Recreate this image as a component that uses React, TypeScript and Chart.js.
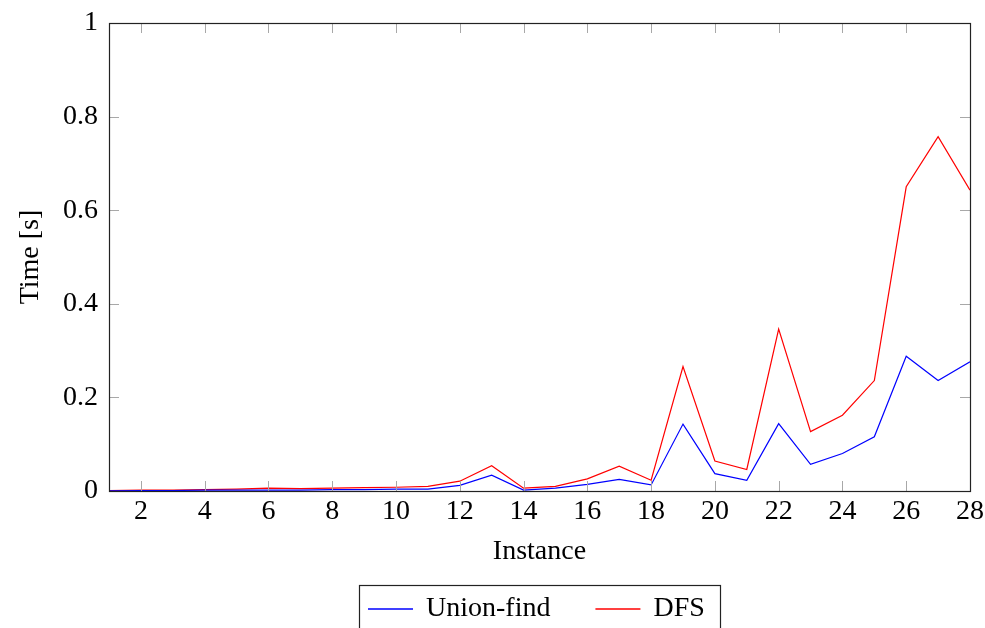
import React, { useEffect, useRef } from "react";
import { Chart, registerables } from "chart.js";

Chart.register(...registerables);

const instances = [1, 2, 3, 4, 5, 6, 7, 8, 9, 10, 11, 12, 13, 14, 15, 16, 17, 18, 19, 20, 21, 22, 23, 24, 25, 26, 27, 28];
const unionFind = [0.0005, 0.001, 0.001, 0.002, 0.002, 0.002, 0.002, 0.003, 0.003, 0.004, 0.004, 0.012, 0.034, 0.002, 0.006, 0.014, 0.025, 0.013, 0.143, 0.037, 0.023, 0.144, 0.057, 0.080, 0.116, 0.288, 0.236, 0.276];
const dfs = [0.001, 0.002, 0.002, 0.003, 0.004, 0.006, 0.005, 0.006, 0.007, 0.008, 0.010, 0.021, 0.054, 0.006, 0.010, 0.026, 0.053, 0.023, 0.266, 0.064, 0.046, 0.346, 0.127, 0.162, 0.236, 0.650, 0.757, 0.643];
const seriesLabels = ["Union-find", "DFS"];
const seriesColors = ["#0000ff", "#ff0000"];
const xTickValues = [2, 4, 6, 8, 10, 12, 14, 16, 18, 20, 22, 24, 26, 28];
const xTickLabels = ["2", "4", "6", "8", "10", "12", "14", "16", "18", "20", "22", "24", "26", "28"];
const yTickValues = [0, 0.2, 0.4, 0.6, 0.8, 1];
const yTickLabels = ["0", "0.2", "0.4", "0.6", "0.8", "1"];

const FONT = "'Liberation Serif', 'Times New Roman', serif";
const FS = 28;

const framePlugin = {
  id: "frameTicks",
  afterDatasetsDraw(chart: any) {
    const { ctx, chartArea: ca, scales } = chart;
    ctx.save();
    ctx.strokeStyle = "#a8a8a8";
    ctx.lineWidth = 1;
    const tl = 10;
    ctx.beginPath();
    for (const v of xTickValues) {
      const px = Math.round(scales.x.getPixelForValue(v)) + 0.5;
      ctx.moveTo(px, ca.bottom);
      ctx.lineTo(px, ca.bottom - tl);
      ctx.moveTo(px, ca.top);
      ctx.lineTo(px, ca.top + tl);
    }
    for (const v of yTickValues) {
      const py = Math.round(scales.y.getPixelForValue(v)) + 0.5;
      ctx.moveTo(ca.left, py);
      ctx.lineTo(ca.left + tl, py);
      ctx.moveTo(ca.right, py);
      ctx.lineTo(ca.right - tl, py);
    }
    ctx.stroke();
    ctx.strokeStyle = "#222";
    ctx.lineWidth = 1.2;
    ctx.strokeRect(Math.round(ca.left) + 0.5, Math.round(ca.top) + 0.5, Math.round(ca.right - ca.left), Math.round(ca.bottom - ca.top));
    ctx.restore();
  },
  afterDraw(chart: any) {
    const { ctx, chartArea: ca } = chart;
    ctx.save();
    ctx.font = `${FS}px ${FONT}`;
    const items = chart.data.datasets.map((d: any, i: number) => ({
      label: d.label as string,
      color: seriesColors[i],
      w: ctx.measureText(d.label).width,
    }));
    const padL = 9, lineLen = 45, gapText = 13, gapItem = 45, padR = 15;
    let total = padL + padR + gapItem * (items.length - 1);
    for (const it of items) total += lineLen + gapText + it.w;
    const boxLeft = Math.round((ca.left + ca.right) / 2 - total / 2);
    const boxTop = Math.round(ca.bottom + 94);
    ctx.strokeStyle = "#222";
    ctx.lineWidth = 1.2;
    ctx.strokeRect(boxLeft + 0.5, boxTop + 0.5, Math.round(total), 80);
    const cy = boxTop + 24;
    let x = boxLeft + padL;
    ctx.textBaseline = "middle";
    ctx.textAlign = "left";
    for (const it of items) {
      ctx.beginPath();
      ctx.strokeStyle = it.color;
      ctx.lineWidth = 1.5;
      ctx.moveTo(x, cy);
      ctx.lineTo(x + lineLen, cy);
      ctx.stroke();
      x += lineLen + gapText;
      ctx.fillStyle = "#000";
      ctx.fillText(it.label, x, cy);
      x += it.w + gapItem;
    }
    ctx.restore();
  },
};

export default function App() {
  const ref = useRef<HTMLCanvasElement | null>(null);
  useEffect(() => {
    document.body.style.margin = "0";
    const canvas = ref.current;
    if (!canvas) return;
    const chart = new Chart(canvas, {
      type: "line",
      data: {
        datasets: [
          {
            label: seriesLabels[0],
            data: instances.map((x, i) => ({ x, y: unionFind[i] })),
            borderColor: seriesColors[0],
            backgroundColor: seriesColors[0],
            borderWidth: 1.2,
            pointRadius: 0,
            tension: 0,
            fill: false,
          },
          {
            label: seriesLabels[1],
            data: instances.map((x, i) => ({ x, y: dfs[i] })),
            borderColor: seriesColors[1],
            backgroundColor: seriesColors[1],
            borderWidth: 1.2,
            pointRadius: 0,
            tension: 0,
            fill: false,
          },
        ],
      },
      options: {
        animation: false,
        responsive: false,
        devicePixelRatio: 1,
        layout: { padding: { left: 0, right: 15, top: 23, bottom: 57 } },
        plugins: { legend: { display: false }, tooltip: { enabled: false } },
        scales: {
          x: {
            type: "linear",
            min: 1,
            max: 28,
            grid: { display: false, drawTicks: false },
            border: { display: false },
            afterBuildTicks: (s: any) => {
              s.ticks = xTickValues.map((v) => ({ value: v }));
            },
            afterFit: (s: any) => {
              s.height = 80;
              s.paddingLeft = 0;
              s.paddingRight = 0;
            },
            ticks: {
              padding: 4,
              color: "#000",
              font: { family: FONT, size: FS },
              maxRotation: 0,
              autoSkip: false,
              callback: (_v: any, i: number) => xTickLabels[i],
            },
            title: {
              display: true,
              text: "Instance",
              color: "#000",
              font: { family: FONT, size: FS },
              padding: { top: 0, bottom: 3 },
            },
          },
          y: {
            type: "linear",
            min: 0,
            max: 1,
            grid: { display: false, drawTicks: false },
            border: { display: false },
            afterBuildTicks: (s: any) => {
              s.ticks = yTickValues.map((v) => ({ value: v }));
            },
            afterFit: (s: any) => {
              s.width = 109;
              s.paddingTop = 0;
              s.paddingBottom = 0;
            },
            ticks: {
              padding: 11,
              color: "#000",
              font: { family: FONT, size: FS },
              autoSkip: false,
              callback: (_v: any, i: number) => yTickLabels[i],
            },
            title: {
              display: true,
              text: "Time [s]",
              color: "#000",
              font: { family: FONT, size: FS },
              padding: { top: 14, bottom: 0 },
            },
          },
        },
      },
      plugins: [framePlugin],
    });
    return () => chart.destroy();
  }, []);
  return <canvas ref={ref} width={985} height={628} style={{ display: "block", width: 985, height: 628 }} />;
}
